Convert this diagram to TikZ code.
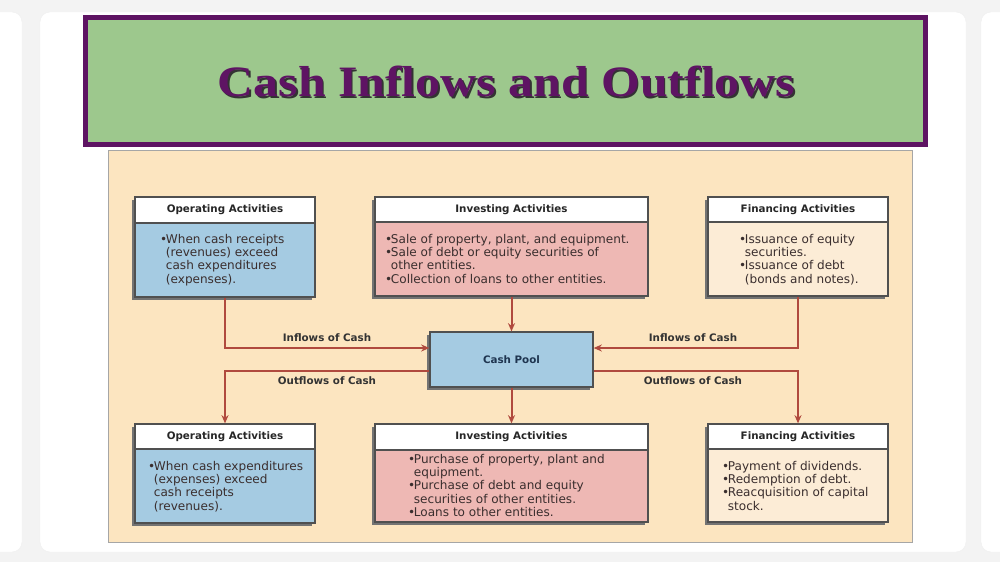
\documentclass[tikz,border=0pt]{standalone}
\usepackage{fontspec}
\setmainfont{DejaVu Sans}
\newfontfamily\titlefont{Liberation Serif}
\usetikzlibrary{shadows,arrows.meta}
\definecolor{pagebg}{HTML}{F3F3F3}
\definecolor{cream}{HTML}{FCE5C0}
\definecolor{opblue}{HTML}{A5CBE2}
\definecolor{invpink}{HTML}{EEB8B4}
\definecolor{fincream}{HTML}{FCECD6}
\definecolor{titlegreen}{HTML}{9DC88D}
\definecolor{titlepurple}{HTML}{5E1463}
\definecolor{flowred}{HTML}{B04A3E}
\definecolor{boxline}{HTML}{505050}
\definecolor{bodytext}{HTML}{3A2E2E}
\definecolor{pooltext}{HTML}{1F3550}
\tikzset{
  actbox/.style={draw=boxline, line width=1.1pt, inner sep=0pt,
    drop shadow={shadow xshift=-0.08cm, shadow yshift=-0.08cm, fill=black!55, opacity=1}},
  hdr/.style={draw=boxline, line width=1.1pt, fill=white, inner sep=0pt, anchor=north,
    font=\bfseries\fontsize{8.8}{10}\selectfont, text=black!85},
  bodytxt/.style={anchor=base west, inner sep=0pt, text=bodytext,
    font=\fontsize{10.3}{11.4}\selectfont},
  flow/.style={draw=flowred, line width=1.7pt, -{Stealth[length=7pt,width=6pt]}},
  flowlbl/.style={font=\bfseries\fontsize{8.8}{10}\selectfont, text=black!80, inner sep=0pt}
}
\newcommand{\bul}{•\kern-1.2pt}
\newcommand{\bsp}{\phantom{\bul}}
\newcommand{\lines}[1]{\begin{tabular}[t]{@{}l@{}}#1\end{tabular}}
\begin{document}
\begin{tikzpicture}[x=0.03cm, y=-0.03cm]
\useasboundingbox (0,0) rectangle (1000,562);
\fill[pagebg] (0,0) rectangle (1000,562);
% page cards
\fill[white, draw=black!6, rounded corners=0.3cm] (-20,12) rectangle (22,552);
\fill[white, draw=black!6, rounded corners=0.3cm] (40,12) rectangle (966,552);
\fill[white, draw=black!6, rounded corners=0.3cm] (981,12) rectangle (1030,552);

% title
\node[draw=titlepurple, line width=4.3pt, fill=titlegreen, minimum width=25.2cm,
  minimum height=3.81cm, inner sep=0pt] (titlebox) at (505.5,81) {};
\node[font=\titlefont\bfseries\fontsize{37}{40}\selectfont, text=black!80,
  xscale=1.15, transform shape] (titleshadow) at (508,83.5) {Cash Inflows and Outflows};
\node[font=\titlefont\bfseries\fontsize{37}{40}\selectfont, text=titlepurple,
  xscale=1.15, transform shape] (title) at (506.5,82) {Cash Inflows and Outflows};

% panel
\node[draw=black!35, line width=0.5pt, fill=cream, minimum width=24.12cm,
  minimum height=11.76cm, inner sep=0pt] (panel) at (510,346) {};

% top boxes
\node[actbox, fill=opblue, minimum width=5.4cm, minimum height=3.0cm] (opT) at (225,247) {};
\node[hdr, minimum width=5.4cm, minimum height=0.78cm] (opTh) at (opT.north) {Operating Activities};
\node[bodytxt] (opTt) at (160,243) {\lines{\bul When cash receipts\\\bsp(revenues) exceed\\\bsp cash expenditures\\\bsp(expenses).}};

\node[actbox, fill=invpink, minimum width=8.19cm, minimum height=2.97cm] (invT) at (511.5,246.5) {};
\node[hdr, minimum width=8.19cm, minimum height=0.75cm] (invTh) at (invT.north) {Investing Activities};
\node[bodytxt] (invTt) at (385,243) {\lines{\bul Sale of property, plant, and equipment.\\\bul Sale of debt or equity securities of\\\bsp other entities.\\\bul Collection of loans to other entities.}};

\node[actbox, fill=fincream, minimum width=5.4cm, minimum height=2.97cm] (finT) at (798,246.5) {};
\node[hdr, minimum width=5.4cm, minimum height=0.75cm] (finTh) at (finT.north) {Financing Activities};
\node[bodytxt] (finTt) at (739,243) {\lines{\bul Issuance of equity\\\bsp securities.\\\bul Issuance of debt\\\bsp(bonds and notes).}};

% cash pool
\node[actbox, fill=opblue, minimum width=4.89cm, minimum height=1.65cm,
  font=\bfseries\fontsize{8.8}{10}\selectfont, text=pooltext] (pool) at (511.5,359.5) {Cash Pool};

% bottom boxes
\node[actbox, fill=opblue, minimum width=5.4cm, minimum height=2.97cm] (opB) at (225,473.5) {};
\node[hdr, minimum width=5.4cm, minimum height=0.75cm] (opBh) at (opB.north) {Operating Activities};
\node[bodytxt] (opBt) at (148,470) {\lines{\bul When cash expenditures\\\bsp(expenses) exceed\\\bsp cash receipts\\\bsp(revenues).}};

\node[actbox, fill=invpink, minimum width=8.19cm, minimum height=2.94cm] (invB) at (511.5,473) {};
\node[hdr, minimum width=8.19cm, minimum height=0.78cm] (invBh) at (invB.north) {Investing Activities};
\node[bodytxt] (invBt) at (408,463) {\lines{\bul Purchase of property, plant and\\\bsp equipment.\\\bul Purchase of debt and equity\\\bsp securities of other entities.\\\bul Loans to other entities.}};

\node[actbox, fill=fincream, minimum width=5.4cm, minimum height=2.94cm] (finB) at (798,473) {};
\node[hdr, minimum width=5.4cm, minimum height=0.75cm] (finBh) at (finB.north) {Financing Activities};
\node[bodytxt] (finBt) at (722,470) {\lines{\bul Payment of dividends.\\\bul Redemption of debt.\\\bul Reacquisition of capital\\\bsp stock.}};

% connectors
\draw[flow] (opT.south) |- ([yshift=0.345cm]pool.west);
\draw[flow] (invT.south) -- (pool.north);
\draw[flow] (finT.south) |- ([yshift=0.345cm]pool.east);
\draw[flow] ([yshift=-0.345cm]pool.west) -| (opBh.north);
\draw[flow] (pool.south) -- (invBh.north);
\draw[flow] ([yshift=-0.345cm]pool.east) -| (finBh.north);

% labels
\node[flowlbl] (inL) at (327,338) {Inflows of Cash};
\node[flowlbl] (inR) at (693,338) {Inflows of Cash};
\node[flowlbl] (outL) at (327,381) {Outflows of Cash};
\node[flowlbl] (outR) at (693,381) {Outflows of Cash};
\end{tikzpicture}
\end{document}
